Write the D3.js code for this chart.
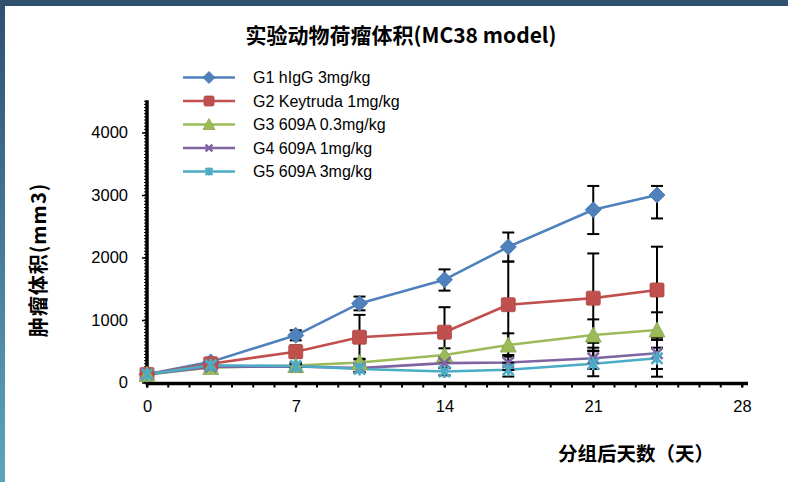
<!DOCTYPE html>
<html><head><meta charset="utf-8">
<script src="https://cdn.jsdelivr.net/npm/d3@7"></script>
<style>body{margin:0;background:#fff}svg{display:block}</style>
</head><body>
<svg id="chart" width="788" height="482"></svg>
<script>
// ---- data ----
const days = [0, 3, 7, 10, 14, 17, 21, 24];
const seriesNames = ["G1 hIgG 3mg/kg", "G2 Keytruda 1mg/kg", "G3 609A 0.3mg/kg", "G4 609A 1mg/kg", "G5 609A 3mg/kg"];
const g1 = [130, 330, 755, 1265, 1645, 2170, 2765, 3000];
const g1ErrUp = [20, 40, 80, 110, 165, 230, 380, 145];
const g1ErrDn = [20, 40, 80, 110, 175, 235, 390, 375];
const g2 = [130, 300, 493, 725, 805, 1245, 1350, 1480];
const g2Err = [20, 50, 100, 357, 400, 690, 715, 693];
const g3 = [130, 240, 270, 320, 440, 600, 760, 840];
const g3Err = [20, 30, 40, 60, 107, 187, 250, 283];
const g4 = [130, 250, 255, 230, 310, 320, 387, 467];
const g4Err = [20, 30, 40, 60, 80, 120, 170, 250];
const g5 = [130, 275, 264, 215, 175, 205, 300, 387];
const g5Err = [20, 30, 40, 50, 60, 110, 200, 294];
const yTicks = [0, 1000, 2000, 3000, 4000];
const xTicks = [0, 7, 14, 21, 28];
const title = "实验动物荷瘤体积(MC38 model)";
const yLabel = "肿瘤体积(mm3)";
const xLabel = "分组后天数（天）";

const colors = ["#4F81BD", "#C0504D", "#9BBB59", "#8064A2", "#4BACC6"];
const shapes = ["diamond", "square", "triangle", "x", "star"];
const series = [
  {vals: g1, up: g1ErrUp, dn: g1ErrDn},
  {vals: g2, up: g2Err, dn: g2Err},
  {vals: g3, up: g3Err, dn: g3Err},
  {vals: g4, up: g4Err, dn: g4Err},
  {vals: g5, up: g5Err, dn: g5Err}
].map((s, i) => ({...s, name: seriesNames[i], color: colors[i], shape: shapes[i]}));

const svg = d3.select("#chart");
const FONT = "'Liberation Sans', Arial, 'Noto Sans CJK SC', sans-serif";
const CJK = "'Noto Sans CJK SC', 'Liberation Sans', sans-serif";

// slide frame
const defs = svg.append("defs");
const lg = defs.append("linearGradient").attr("id", "lb").attr("x1", 0).attr("y1", 0).attr("x2", 0).attr("y2", 1);
lg.append("stop").attr("offset", "0%").attr("stop-color", "#2f4f6f");
lg.append("stop").attr("offset", "100%").attr("stop-color", "#5ca6b9");
svg.append("rect").attr("x", 0).attr("y", 0).attr("width", 788).attr("height", 6).attr("fill", "#30506f");
svg.append("rect").attr("x", 0).attr("y", 0).attr("width", 5).attr("height", 482).attr("fill", "url(#lb)");

const x = d3.scaleLinear().domain([0, 28]).range([147, 742]);
const y = d3.scaleLinear().domain([0, 4500]).range([382.5, 101.25]);

// title
svg.append("text").attr("x", 401).attr("y", 43).attr("text-anchor", "middle")
  .attr("font-family", CJK).attr("font-weight", "bold").attr("font-size", 21).attr("fill", "#000")
  .text(title);

// axes
const yAxis = d3.axisLeft(y).tickValues(yTicks).tickSize(5).tickPadding(14).tickFormat(d3.format("d"));
const gy = svg.append("g").attr("transform", `translate(${x(0)},0)`).call(yAxis);
gy.select(".domain").remove();
gy.selectAll(".tick line").attr("stroke", "#000").attr("stroke-width", 1.5);
gy.selectAll(".tick text").attr("font-family", FONT).attr("font-size", 16.5).attr("fill", "#000");
// minor y ticks
const yMinor = d3.range(0, 4550, 50);
svg.append("g").selectAll("line").data(yMinor).join("line")
  .attr("x1", x(0) - 3).attr("x2", x(0)).attr("y1", d => y(d)).attr("y2", d => y(d))
  .attr("stroke", "#000").attr("stroke-width", 1);

const xAxis = d3.axisBottom(x).tickValues(xTicks).tickSize(5).tickPadding(13);
const gx = svg.append("g").attr("transform", `translate(0,${y(0)})`).call(xAxis);
gx.select(".domain").remove();
gx.selectAll(".tick line").attr("stroke", "#000").attr("stroke-width", 2);
gx.selectAll(".tick text").attr("font-family", FONT).attr("font-size", 16.5).attr("fill", "#000");
// minor x ticks (every day)
svg.append("g").selectAll("line").data(d3.range(0, 29, 1)).join("line")
  .attr("x1", d => x(d)).attr("x2", d => x(d)).attr("y1", y(0)).attr("y2", y(0) + 5)
  .attr("stroke", "#000").attr("stroke-width", 2);

// axis lines
svg.append("line").attr("x1", x(0)).attr("x2", x(0)).attr("y1", y(4500) - 1).attr("y2", y(0) + 1.5)
  .attr("stroke", "#000").attr("stroke-width", 3.5);
svg.append("line").attr("x1", x(0) - 1.5).attr("x2", x(28) + 6).attr("y1", y(0) + 1).attr("y2", y(0) + 1)
  .attr("stroke", "#000").attr("stroke-width", 3.5);

// axis titles
svg.append("text").attr("transform", `translate(46,260) rotate(-90)`).attr("text-anchor", "middle")
  .attr("font-family", CJK).attr("font-weight", "bold").attr("font-size", 20).attr("fill", "#000")
  .attr("letter-spacing", 1).text(yLabel);
svg.append("text").attr("x", 636).attr("y", 461).attr("text-anchor", "middle")
  .attr("font-family", CJK).attr("font-weight", "bold").attr("font-size", 19.5).attr("fill", "#000")
  .text(xLabel);

// marker drawing
function marker(g, shape, color, cx, cy, s) {
  const h = s / 2;
  if (shape === "diamond") {
    g.append("path").attr("d", `M${cx},${cy - h - 1}L${cx + h + 1},${cy}L${cx},${cy + h + 1}L${cx - h - 1},${cy}Z`)
      .attr("fill", color).attr("stroke", d3.color(color).darker(0.3)).attr("stroke-width", 0.8);
  } else if (shape === "square") {
    g.append("rect").attr("x", cx - h).attr("y", cy - h).attr("width", s).attr("height", s).attr("rx", 1.5)
      .attr("fill", color).attr("stroke", d3.color(color).darker(0.3)).attr("stroke-width", 0.8);
  } else if (shape === "triangle") {
    g.append("path").attr("d", `M${cx},${cy - h - 1}L${cx + h + 1},${cy + h}L${cx - h - 1},${cy + h}Z`)
      .attr("fill", color).attr("stroke", d3.color(color).darker(0.3)).attr("stroke-width", 0.8);
  } else if (shape === "x") {
    const k = h * 0.85;
    g.append("path").attr("d", `M${cx - k},${cy - k}L${cx + k},${cy + k}M${cx - k},${cy + k}L${cx + k},${cy - k}`)
      .attr("stroke", color).attr("stroke-width", 2.6).attr("fill", "none");
  } else if (shape === "star") {
    const k = h * 0.85;
    g.append("path").attr("d", `M${cx - k},${cy - k}L${cx + k},${cy + k}M${cx - k},${cy + k}L${cx + k},${cy - k}M${cx},${cy - h}L${cx},${cy + h}`)
      .attr("stroke", color).attr("stroke-width", 2.6).attr("fill", "none");
  }
}

const line = d3.line().x((d, i) => x(days[i])).y(d => y(d));
const plot = svg.append("g");
// lines
series.forEach(s => {
  plot.append("path").datum(s.vals).attr("d", line).attr("fill", "none")
    .attr("stroke", s.color).attr("stroke-width", 2.6).attr("stroke-linejoin", "round");
});
// error bars
series.forEach(s => {
  const eg = plot.append("g").attr("stroke", "#000").attr("stroke-width", 2);
  s.vals.forEach((v, i) => {
    const cx = x(days[i]);
    const top = y(v + s.up[i]), bot = y(v - s.dn[i]);
    eg.append("line").attr("x1", cx).attr("x2", cx).attr("y1", top).attr("y2", bot);
    eg.append("line").attr("x1", cx - 6).attr("x2", cx + 6).attr("y1", top).attr("y2", top);
    eg.append("line").attr("x1", cx - 6).attr("x2", cx + 6).attr("y1", bot).attr("y2", bot);
  });
});
// markers
series.forEach(s => {
  const mg = plot.append("g");
  s.vals.forEach((v, i) => marker(mg, s.shape, s.color, x(days[i]), y(v), s.shape === "x" || s.shape === "star" ? 13 : 14));
});

// legend
const leg = svg.append("g");
series.forEach((s, i) => {
  const ly = 77.5 + i * 23.5;
  leg.append("line").attr("x1", 183).attr("x2", 235).attr("y1", ly).attr("y2", ly)
    .attr("stroke", s.color).attr("stroke-width", 2.6);
  marker(leg, s.shape, s.color, 209, ly, s.shape === "x" || s.shape === "star" ? 8 : 10);
  leg.append("text").attr("x", 253).attr("y", ly + 5.5).attr("font-family", FONT).attr("font-size", 16)
    .attr("fill", "#000").text(s.name);
});
</script>
</body></html>
